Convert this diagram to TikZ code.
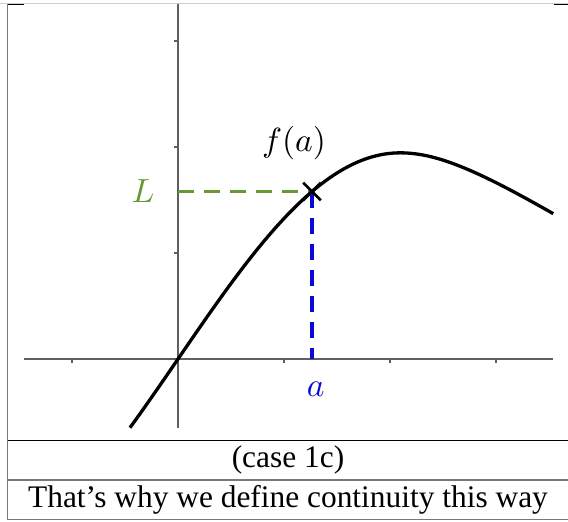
\documentclass[tikz,border=0pt]{standalone}
\usepackage{fontspec}
\setmainfont{Liberation Serif}
\usetikzlibrary{shapes.misc}
\definecolor{ggreen}{RGB}{104,152,52}
\definecolor{gblue}{RGB}{10,10,215}
\definecolor{axisgray}{RGB}{95,95,95}
\definecolor{framegray}{RGB}{120,120,120}
\definecolor{lightframe}{RGB}{205,205,205}
\tikzset{
  axisline/.style={draw=axisgray, line width=1.2pt},
  curveline/.style={draw=black, line width=3.3pt},
  gdash/.style={draw=ggreen, line width=3.3pt, dash pattern=on 16pt off 10pt},
  bdash/.style={draw=gblue, line width=3.3pt, dash pattern=on 16pt off 10pt},
  tabtext/.style={inner sep=0pt, font=\fontsize{31.4}{36}\selectfont},
  mathlabel/.style={inner sep=0pt, scale=3.35},
  crossmark/.style={cross out, draw=black, line width=2.7pt, minimum size=15pt, inner sep=0pt}
}
\begin{document}
\begin{tikzpicture}[x=1pt,y=-1pt]
\useasboundingbox (0,0) rectangle (568,522);
% table frame
\draw[lightframe, line width=0.9pt] (0,3.6) -- (568,3.6);
\draw[black, line width=1pt] (7.5,4.6) -- (23.5,4.6);
\draw[black, line width=1pt] (554,4.6) -- (568,4.6);
\draw[framegray, line width=1.3pt] (7.5,4) -- (7.5,520);
\draw[black, line width=1pt] (7.5,440) -- (568,440);
\draw[framegray, line width=1.3pt] (7.5,480) -- (568,480);
\draw[framegray, line width=1.3pt] (7.5,519.5) -- (568,519.5);
\node[tabtext, anchor=base] (cap1) at (288,467) {(case 1c)};
\node[tabtext, anchor=base] (cap2) at (288,507) {That’s why we define continuity this way};
% graph
\begin{scope}[shift={(178,359)}, x=106pt, y=106pt]
  \draw[axisline] (-1.453,0) -- (3.538,0);
  \draw[axisline] (0,-0.651) -- (0,3.349);
  \foreach \t in {-1,1,2,3} \draw[axisline] (\t,0) -- (\t,-0.038);
  \foreach \t in {1,2,3} \draw[axisline] (0,\t) -- (-0.035,\t);
  \coordinate (Pa) at (1.264,{1.945*sin(0.75*1.264 r)});
  \coordinate (Ly) at (0,{1.945*sin(0.75*1.264 r)});
  \coordinate (Ax) at (1.264,0);
  \draw[gdash] (Ly) -- (Pa);
  \draw[bdash] (Pa) -- (Ax);
  \draw[curveline, line join=round] plot[domain=-0.453:2.0944, samples=70] (\x,{1.945*sin(0.75*\x r)})
     -- plot[domain=2.0944:3.54, samples=40] (\x,{1.945-0.45*(sqrt(1+2*(\x-2.0944)^2)-1)});
  \node[crossmark] (P) at (Pa) {};
  \node[mathlabel, text=ggreen] (Lab) at (-0.33,{1.945*sin(0.75*1.264 r)}) {$L$};
  \node[mathlabel] (fa) at (1.094,2.04) {$f(a)$};
  \node[mathlabel, text=gblue] (alab) at (1.30,-0.283) {$a$};
\end{scope}
\end{tikzpicture}
\end{document}
